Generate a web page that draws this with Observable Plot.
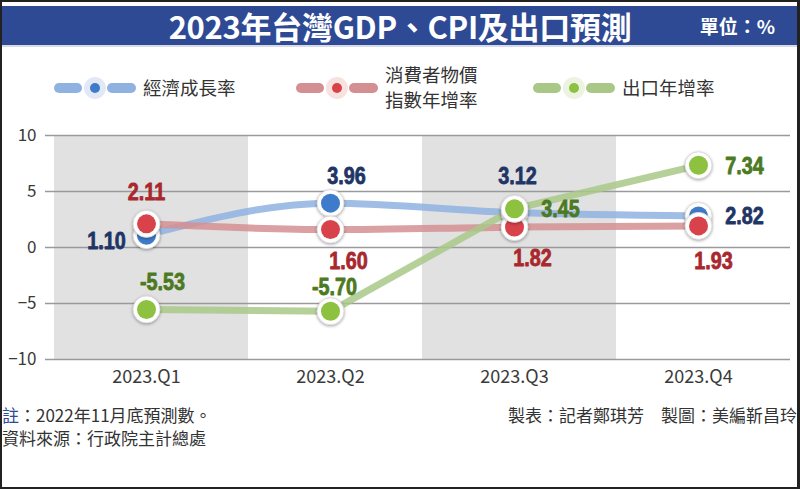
<!DOCTYPE html>
<html><head><meta charset="utf-8">
<script src="https://cdn.jsdelivr.net/npm/d3@7"></script>
<script src="https://cdn.jsdelivr.net/npm/@observablehq/plot@0.6"></script>
<style>
body{margin:0;background:#fff;}
#wrap{position:relative;width:800px;height:489px;overflow:hidden;background:#fff;font-family:"Noto Sans CJK TC","Noto Sans",sans-serif;}
#frame{position:absolute;left:0;top:0;width:800px;height:489px;box-sizing:border-box;border:2px solid #222;border-right-width:3px;pointer-events:none;}
#titlebar{position:absolute;left:2px;right:3px;top:6px;height:39px;background:#2e4a94;border-bottom:2px solid #d6dbe6;}
#title{position:absolute;left:0;width:796px;top:0;height:39px;line-height:39px;text-align:center;color:#fff;font-weight:700;font-size:31px;letter-spacing:-0.3px;}
#unit{position:absolute;right:22px;top:0;height:39px;line-height:39px;color:#fff;font-weight:700;font-size:19px;}
#legend{position:absolute;left:0;top:55px;}
#chart{position:absolute;left:0;top:120px;}
.foot{position:absolute;font-size:17px;color:#333;white-space:nowrap;line-height:20px;}
</style>
</head><body>
<div id="wrap">
  <div id="titlebar"><div id="title">2023年台灣GDP、CPI及出口預測</div><div id="unit">單位：%</div></div>
  <div id="legend"></div>
  <div id="chart"></div>
  <div class="foot" style="left:2px;top:405px;"><span style="color:#2d4a9a">註</span>：2022年11月底預測數。</div>
  <div class="foot" style="left:2px;top:428px;">資料來源：行政院主計總處</div>
  <div class="foot" style="right:3px;top:405px;">製表：記者鄭琪芳　製圖：美編靳昌玲</div>
  <div id="frame"></div>
</div>
<script>
// ---- data ----
const quarters = ["2023.Q1", "2023.Q2", "2023.Q3", "2023.Q4"];
const gdpGrowth = [1.10, 3.96, 3.12, 2.82];
const cpiGrowth = [2.11, 1.60, 1.82, 1.93];
const exportGrowth = [-5.53, -5.70, 3.45, 7.34];
const seriesNames = ["經濟成長率", "消費者物價指數年增率", "出口年增率"];
const legendLines = [["經濟成長率"], ["消費者物價", "指數年增率"], ["出口年增率"]];
const yTicks = [-10, -5, 0, 5, 10];
const shadedQuarters = ["2023.Q1", "2023.Q3"];

// ---- styles ----
const lineColors = ["#8fb2e0", "#d38f92", "#a9c888"];
const dotColors = ["#3e7bcb", "#d8424a", "#8cc240"];
const labelColors = ["#1f3566", "#a8282e", "#4c7a22"];
const haloColors = ["#e2e9f5", "#f6e2de", "#edf3e2"];
const curves = ["monotone-x", "monotone-x", "linear"];
const placements = [
  ["left", "aboveR", "aboveHigh", "right"],
  ["above", "below", "below", "belowLow"],
  ["aboveR", "aboveLow", "right", "right"]
];
const offsets = {
  left: {dx: -40, dy: 6},
  above: {dx: 0, dy: -31},
  aboveHigh: {dx: 3, dy: -36},
  aboveLow: {dx: 4, dy: -24},
  aboveR: {dx: 16, dy: -27},
  below: {dx: 18, dy: 32},
  belowLow: {dx: 15, dy: 36},
  right: {dx: 46, dy: 1}
};
const HALO_R = 13.5;

const values = [gdpGrowth, cpiGrowth, exportGrowth];
const series = values.map((vals, s) => quarters.map((q, i) => ({
  series: seriesNames[s], s, quarter: q, value: vals[i], place: placements[s][i]
})));

const marks = [
  Plot.cell(shadedQuarters, {x: d => d, fill: "#e1e1e1", dx: 4, insetLeft: -4, insetRight: -6, insetTop: 0, insetBottom: 0}),
  Plot.ruleY(yTicks, {stroke: "#9a9a9a", strokeWidth: 1.3, insetLeft: -8}),
  Plot.axisY({ticks: yTicks, tickSize: 0, tickPadding: 17, fontSize: 17, fill: "#3a3a3a"}),
  Plot.axisX({tickSize: 0, tickPadding: 11, fontSize: 18, fill: "#3a3a3a"})
];
series.forEach((data, s) => {
  marks.push(Plot.line(data, {x: "quarter", y: "value", stroke: lineColors[s], strokeWidth: 7, strokeOpacity: 0.85, curve: curves[s]}));
});
series.forEach((data, s) => {
  marks.push(Plot.dot(data, {x: "quarter", y: "value", r: HALO_R, fill: "#fff", stroke: "#dcdcdc", strokeWidth: 1}));
  marks.push(Plot.dot(data, {x: "quarter", y: "value", r: 9.5, fill: dotColors[s]}));
});
series.forEach((data, s) => {
  Object.keys(offsets).forEach(p => {
    const sub = data.filter(d => d.place === p);
    if (!sub.length) return;
    marks.push(Plot.text(sub, {
      x: "quarter", y: "value", text: d => d.value.toFixed(2),
      dx: offsets[p].dx, dy: offsets[p].dy, fill: labelColors[s],
      stroke: labelColors[s], strokeWidth: 0.8,
      fontSize: 23, fontWeight: "bold",
      fontFamily: "'Liberation Sans','DejaVu Sans',sans-serif",
      letterSpacing: "-0.5px"
    }));
  });
});

const chart = Plot.plot({
  width: 800, height: 275,
  marginTop: 15, marginBottom: 36, marginLeft: 53, marginRight: 10,
  style: {fontFamily: "'Noto Sans CJK TC', sans-serif", background: "transparent", overflow: "visible"},
  x: {type: "band", domain: quarters, padding: 0, label: null},
  y: {domain: [-10, 10], label: null},
  marks
});
// condense the value labels horizontally (the reference uses a narrow heavy face)
d3.select(chart).selectAll("text").each(function () {
  const s = (this.textContent || "").trim();
  if (!/^-?\d+\.\d\d$/.test(s)) return;
  const t = this.getAttribute("transform") || "";
  const x = parseFloat(this.getAttribute("x"));
  const cx = isFinite(x) ? x : 0;
  this.setAttribute("transform", `${t} translate(${cx},0) scale(0.86,1) translate(${-cx},0)`);
});
// soft shadow under the white halos
d3.select(chart).selectAll("circle").each(function () {
  if (+this.getAttribute("r") === HALO_R) this.style.filter = "drop-shadow(0px 1px 1.5px rgba(0,0,0,0.35))";
});
document.getElementById("chart").appendChild(chart);

// ---- legend ----
const legendStarts = [54, 296, 533];
const lsvg = d3.select("#legend").append("svg").attr("width", 800).attr("height", 62);
legendStarts.forEach((x0, s) => {
  const cy = 33;
  const g = lsvg.append("g");
  g.append("rect").attr("x", x0).attr("y", cy - 5).attr("width", 28).attr("height", 10).attr("rx", 5).attr("fill", lineColors[s]);
  g.append("rect").attr("x", x0 + 53).attr("y", cy - 5).attr("width", 29).attr("height", 10).attr("rx", 5).attr("fill", lineColors[s]);
  g.append("circle").attr("cx", x0 + 41).attr("cy", cy).attr("r", 11).attr("fill", haloColors[s]);
  g.append("circle").attr("cx", x0 + 41).attr("cy", cy).attr("r", 5).attr("fill", dotColors[s]);
  const lines = legendLines[s];
  lines.forEach((t, i) => {
    g.append("text").attr("x", x0 + 89).attr("y", cy + (i - (lines.length - 1) / 2) * 25)
      .attr("dy", "0.36em").attr("font-size", 18.5).attr("fill", "#333")
      .attr("font-family", "'Noto Sans CJK TC', sans-serif").text(t);
  });
});
</script>
</body></html>
